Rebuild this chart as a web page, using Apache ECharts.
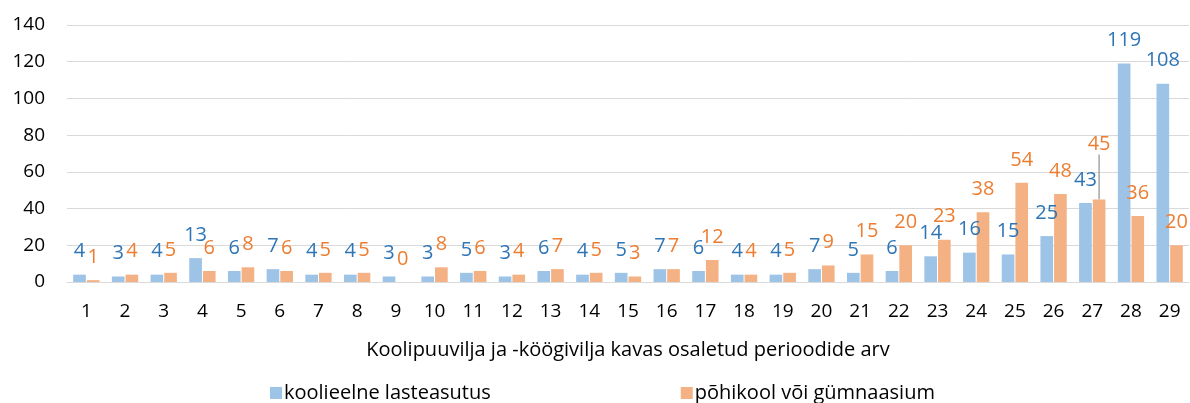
<!DOCTYPE html>
<html>
<head>
<meta charset="utf-8">
<script src="https://cdn.jsdelivr.net/npm/echarts@6/dist/echarts.min.js"></script>
<style>
  html, body { margin: 0; padding: 0; background: #fff; }
  #chart { width: 1190px; height: 403px; }
</style>
</head>
<body>
<div id="chart"></div>
<script>
const categories = ["1", "2", "3", "4", "5", "6", "7", "8", "9", "10", "11", "12", "13", "14", "15",
  "16", "17", "18", "19", "20", "21", "22", "23", "24", "25", "26", "27", "28", "29"];
const preschool = [4, 3, 4, 13, 6, 7, 4, 4, 3, 3, 5, 3, 6, 4, 5, 7, 6, 4, 4, 7, 5, 6, 14, 16, 15, 25, 43, 119, 108];
const school = [1, 4, 5, 6, 8, 6, 5, 5, 0, 8, 6, 4, 7, 5, 3, 7, 12, 4, 5, 9, 15, 20, 23, 38, 54, 48, 45, 36, 20];

const font = "'Open Sans', 'Liberation Sans', sans-serif";

// in the original the label of period 27 (school) is lifted up with a leader line
const liftedIndex = 26;

const chart = echarts.init(document.getElementById("chart"));

chart.setOption({
  animation: false,
  textStyle: { fontFamily: font },
  grid: { left: 67, right: 1, top: 25, bottom: 121 },
  legend: {
    left: 265,
    top: 378,
    itemWidth: 12,
    itemHeight: 12,
    itemGap: 190,
    icon: "rect",
    textStyle: { fontSize: 20, color: "#000", fontFamily: font, padding: [0, 0, 0, -3] },
    data: ["koolieelne lasteasutus", "põhikool või gümnaasium"],
  },
  xAxis: {
    type: "category",
    data: categories,
    name: "Koolipuuvilja ja -köögivilja kavas osaletud perioodide arv",
    nameLocation: "middle",
    nameGap: 58,
    nameTextStyle: { fontSize: 20, color: "#000", fontFamily: font },
    axisTick: { show: false },
    axisLine: { lineStyle: { color: "#D9D9D9", width: 1 } },
    axisLabel: { fontSize: 19, color: "#000", margin: 20, fontFamily: font },
  },
  yAxis: {
    type: "value",
    min: 0,
    max: 140,
    interval: 20,
    axisLabel: { fontSize: 19, color: "#000", margin: 22, fontFamily: font },
    splitLine: { lineStyle: { color: "#D9D9D9", width: 1 } },
  },
  series: [
    {
      name: "koolieelne lasteasutus",
      type: "bar",
      data: preschool,
      barGap: "8%",
      barCategoryGap: "32%",
      itemStyle: { color: "#9DC3E6" },
      label: { show: true, position: "top", distance: 13, fontSize: 20, color: "#2E75B6", fontFamily: font },
    },
    {
      name: "põhikool või gümnaasium",
      type: "bar",
      data: school.map((v, i) => (i === liftedIndex
        ? { value: v, labelLine: { show: true, lineStyle: { color: "#A6A6A6", width: 1.5 } } }
        : v)),
      itemStyle: { color: "#F4B183" },
      label: { show: true, position: "top", distance: 13, fontSize: 20, color: "#ED7D31", fontFamily: font },
      labelLayout: (params) => (params.dataIndex === liftedIndex ? { dy: -32 } : {}),
    },
  ],
});
</script>
</body>
</html>
